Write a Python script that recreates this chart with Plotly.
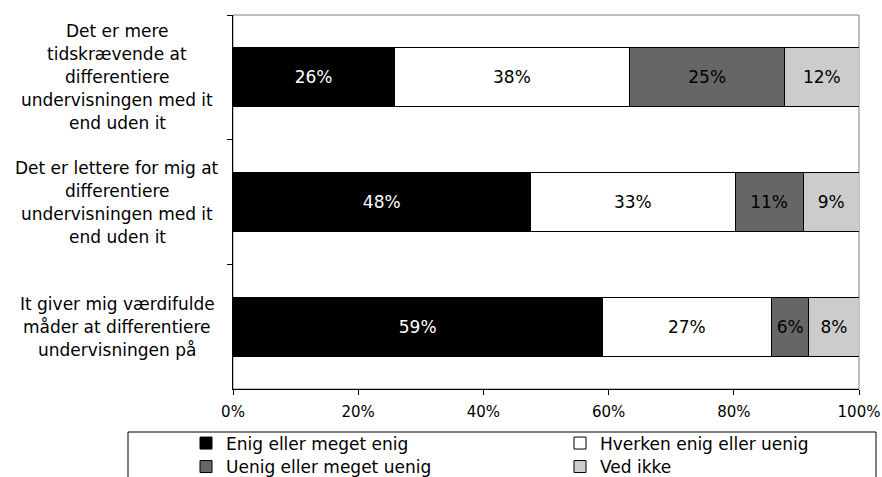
import plotly.graph_objects as go

# ---- data ----
categories = [
    "Det er mere tidskrævende at differentiere undervisningen med it end uden it",
    "Det er lettere for mig at differentiere undervisningen med it end uden it",
    "It giver mig værdifulde måder at differentiere undervisningen på",
]
category_lines = [
    ["Det er mere", "tidskrævende at", "differentiere", "undervisningen med it", "end uden it"],
    ["Det er lettere for mig at", "differentiere", "undervisningen med it", "end uden it"],
    ["It giver mig værdifulde", "måder at differentiere", "undervisningen på"],
]
series_names = ["Enig eller meget enig", "Hverken enig eller uenig",
                "Uenig eller meget uenig", "Ved ikke"]
enig = [26, 48, 59]
hverken = [38, 33, 27]
uenig = [25, 11, 6]
ved_ikke = [12, 9, 8]
x_ticks = [0, 20, 40, 60, 80, 100]
x_tick_labels = ["0%", "20%", "40%", "60%", "80%", "100%"]

series_values = [enig, hverken, uenig, ved_ikke]
fill_colors = ["#000000", "#FFFFFF", "#666666", "#CCCCCC"]
text_colors = ["#FFFFFF", "#000000", "#000000", "#000000"]
legend_ids = ["legend", "legend2", "legend3", "legend4"]

FONT = "DejaVu Sans, Verdana, sans-serif"

W, H = 882, 477
# plot area in window pixels
PL, PR, PT, PB = 233, 859, 15, 389
L, T = PL, PT
R, B = W - PR, H - PB
PW, PH = PR - PL, PB - PT

def px_x(px):
    return (px - PL) / PW

def px_y(py):
    return (PB - py) / PH

fig = go.Figure()
for name, vals, fc, tc, lg in zip(series_names, series_values, fill_colors, text_colors, legend_ids):
    fig.add_trace(go.Bar(
        y=categories, x=vals, name=name, orientation="h",
        marker=dict(color=fc, line=dict(color="#000000", width=1)),
        text=vals, texttemplate="%{text}%", textposition="inside",
        insidetextanchor="middle", textangle=0,
        textfont=dict(family=FONT, size=17, color=tc),
        hoverinfo="skip", legend=lg,
    ))

# category labels (centered, multi-line)
annotations = []
LINE_H = 23
for cat, lines in zip(categories, category_lines):
    n = len(lines)
    for j, line in enumerate(lines):
        annotations.append(dict(
            xref="paper", yref="y", x=px_x(117), y=cat, xanchor="center",
            yanchor="middle", text=line, showarrow=False,
            yshift=((n - 1) / 2 - j) * LINE_H,
            font=dict(family=FONT, size=17, color="#000000"),
        ))

legend_pos = [(186, 443.5), (560, 443.5), (186, 467), (560, 467)]
legend_kw = {}
for lg, (lx, ly) in zip(legend_ids, legend_pos):
    legend_kw[lg] = dict(
        x=px_x(lx), y=px_y(ly), xanchor="left", yanchor="middle",
        orientation="v", bgcolor="rgba(0,0,0,0)", borderwidth=0,
        font=dict(family=FONT, size=17, color="#000000"),
    )

fig.update_layout(
    width=W, height=H,
    margin=dict(l=L, r=R, t=T, b=B, pad=0, autoexpand=False),
    paper_bgcolor="#FFFFFF", plot_bgcolor="#FFFFFF",
    barmode="stack", barnorm="percent", bargap=0.527,
    showlegend=True, hovermode=False,
    xaxis=dict(
        range=[0, 100], tickvals=x_ticks, ticktext=x_tick_labels,
        showgrid=False, zeroline=False, showline=True, linecolor="#000000",
        linewidth=1, ticks="outside", ticklen=5, tickcolor="#000000",
        tickfont=dict(family=FONT, size=15, color="#000000"),
        ticklabelstandoff=4, automargin=False,
    ),
    yaxis=dict(
        type="category", autorange="reversed", showticklabels=False,
        showgrid=False, zeroline=False, showline=True, linecolor="#000000",
        linewidth=1, ticks="outside", ticklen=5, tickcolor="#000000",
        tickson="boundaries", automargin=False,
    ),
    annotations=annotations,
    shapes=[
        dict(type="rect", xref="paper", yref="paper", x0=0, x1=1, y0=0, y1=1,
             line=dict(color="#808080", width=1), layer="below"),
        dict(type="rect", xref="paper", yref="paper",
             x0=px_x(128), x1=px_x(876), y0=px_y(432), y1=px_y(495),
             line=dict(color="#000000", width=1), fillcolor="rgba(0,0,0,0)"),
    ],
    **legend_kw,
)

fig.write_html(
    "out.html",
    config={"displayModeBar": False, "staticPlot": False},
    post_script="document.body.style.margin='0';document.body.style.overflow='hidden';",
)
